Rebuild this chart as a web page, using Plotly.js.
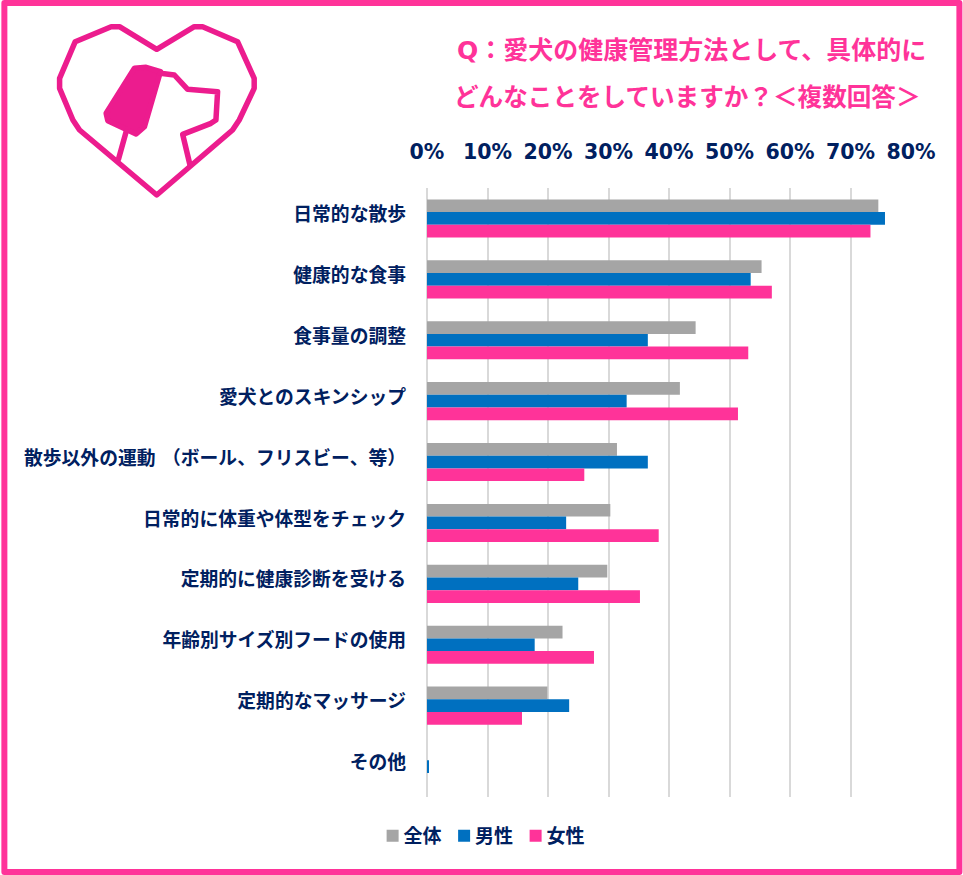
<!DOCTYPE html>
<html><head><meta charset="utf-8">
<script src="https://cdn.plot.ly/plotly-3.0.1.min.js"></script>
<style>html,body{margin:0;padding:0;background:#fff}#c{width:963px;height:875px}
.shapelayer path{stroke-linejoin:round;stroke-linecap:round}
.ytick{transform:translateY(-4px)}</style>
</head><body><div id="c"></div>
<script>
const categories = ["日常的な散歩","健康的な食事","食事量の調整","愛犬とのスキンシップ","散歩以外の運動 （ボール、フリスビー、等）","日常的に体重や体型をチェック","定期的に健康診断を受ける","年齢別サイズ別フードの使用","定期的なマッサージ","その他"];
const allValues = [74.6,55.3,44.4,41.8,31.4,30.3,29.8,22.4,19.9,0];
const maleValues = [75.7,53.5,36.5,33.0,36.5,23.0,25.0,17.8,23.5,0.3];
const femaleValues = [73.3,57.0,53.1,51.4,26.0,38.3,35.2,27.6,15.7,0];
const seriesNames = ["全体","男性","女性"];
const seriesColors = ["#A5A5A5","#0070C0","#FF3399"];
const titleLines = ["Q：愛犬の健康管理方法として、具体的に","どんなことをしていますか？＜複数回答＞"];
const W=963,H=875,L=426.5,R=911.5,T=188,B=797;
const NAVY="#002060", PINK="#FF3399", LOGO="#EC1C8E";
const FONT='"DejaVu Sans","Noto Sans CJK JP",sans-serif';
const px=x=>(x-L)/(R-L), py=y=>(B-y)/(B-T);
const path=(pts,close)=>pts.map((p,i)=>(i?'L':'M')+px(p[0]/3)+','+py(p[1]/3)).join(' ')+(close?' Z':'');
const heart=[[467,148],[580,80],[605,80],[710,125],[760,235],[760,265],[715,360],[695,390],[467,585],[235,390],[215,360],[175,265],[175,235],[222,125],[330,80],[355,80]];
const ear=[[400,205],[435,202],[478,215],[430,380],[405,402],[320,362],[315,340]];
const head=[[478,220],[520,225],[560,268],[650,275],[645,360],[630,370],[545,403],[567,495]];
const collar=[[375,395],[352,478]];
const logoShape=(pts,close,fill)=>({type:'path',xref:'paper',yref:'paper',path:path(pts,close),line:{color:LOGO,width:5.5},fillcolor:fill?LOGO:'rgba(0,0,0,0)',opacity:1,layer:'above'});
const traces=seriesNames.map((n,i)=>({type:'bar',orientation:'h',name:n,y:categories,x:[allValues,maleValues,femaleValues][i],marker:{color:seriesColors[i]},hoverinfo:'x+y+name'}));
const layout={width:W,height:H,margin:{l:L,r:W-R,t:T,b:H-B,pad:0},paper_bgcolor:'#fff',plot_bgcolor:'#fff',
 barmode:'group',bargap:0.375,bargroupgap:0,
 font:{family:FONT,color:NAVY},
 xaxis:{side:'top',range:[0,80],dtick:10,ticksuffix:'%',showgrid:true,gridcolor:'#D9D9D9',gridwidth:2,zeroline:true,zerolinecolor:'#D9D9D9',zerolinewidth:2,showline:false,ticks:'',ticklabelstandoff:24,tickfont:{size:20.5,color:NAVY,family:FONT,weight:700}},
 yaxis:{autorange:'reversed',type:'category',showgrid:false,zeroline:false,showline:false,ticks:'',ticklabelstandoff:20,tickfont:{size:18.8,color:NAVY,family:FONT,weight:700}},
 showlegend:true,
 legend:{orientation:'h',x:px(372),xanchor:'left',y:py(836),yanchor:'middle',entrywidth:26.5,entrywidthmode:'pixels',font:{size:19,color:NAVY,family:FONT,weight:700},bgcolor:'rgba(0,0,0,0)',itemclick:false,itemdoubleclick:false,traceorder:'normal'},
 annotations:[
  {xref:'paper',yref:'paper',x:px(691.5),y:py(51),xanchor:'center',yanchor:'middle',showarrow:false,text:titleLines[0],font:{size:25,color:PINK,family:FONT,weight:700}},
  {xref:'paper',yref:'paper',x:px(688),y:py(98),xanchor:'center',yanchor:'middle',showarrow:false,text:titleLines[1],font:{size:24.6,color:PINK,family:FONT,weight:700}}
 ],
 shapes:[
  {type:'rect',xref:'paper',yref:'paper',x0:px(3),x1:px(960),y0:py(3),y1:py(872),line:{color:PINK,width:6},fillcolor:'rgba(0,0,0,0)',layer:'above'},
  logoShape(heart,true,false),logoShape(ear,true,true),logoShape(head,false,false),logoShape(collar,false,false)
 ]};
Plotly.newPlot('c',traces,layout,{displayModeBar:false,responsive:false}).then(()=>{
 document.querySelectorAll('.legendtext').forEach(t=>{t.setAttribute('x',+t.getAttribute('x')-9);});
});
</script></body></html>
